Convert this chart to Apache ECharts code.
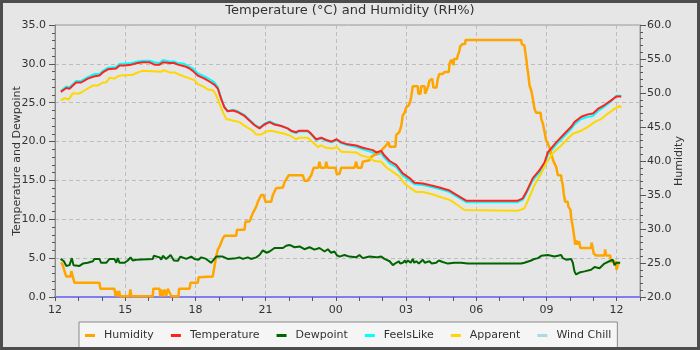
<!DOCTYPE html>
<html>
<head>
<meta charset="utf-8">
<script src="https://cdn.jsdelivr.net/npm/echarts@6/dist/echarts.min.js"></script>
<style>
  html, body { margin: 0; padding: 0; background: #e6e6e6; }
  #chart { width: 700px; height: 350px; }
</style>
</head>
<body>
<div id="chart"></div>
<script>
// Readings as [hours since 12:00, value]
const humidity = [
  [0.26,25.1],[0.33,24.7],[0.48,23.0],[0.66,23.0],[0.7,23.8],[0.76,23.0],[0.83,22.1],[1.9,22.1],[1.94,21.2],[2.54,21.2],
  [2.59,20.1],[2.62,20.9],[2.66,20.1],[2.74,20.9],[2.78,20.1],[3.18,20.1],[3.22,21.1],[3.26,20.1],[4.18,20.1],[4.2,21.2],
  [4.47,21.2],[4.5,20.1],[4.54,21.1],[4.6,20.1],[4.68,21.1],[4.75,20.1],[4.82,21.2],[4.97,20.1],[5.28,20.1],[5.3,21.2],
  [5.75,21.2],[5.79,22.1],[6.1,22.1],[6.14,22.9],[6.74,23.0],[6.79,24.0],[6.89,26.0],[6.96,27.0],[7.03,27.4],[7.17,28.6],
  [7.24,29.0],[7.74,29.0],[7.78,29.9],[8.1,29.9],[8.14,31.1],[8.31,31.1],[8.45,32.3],[8.6,33.3],[8.67,34.0],[8.81,35.0],
  [8.91,35.0],[9.0,34.0],[9.24,34.0],[9.31,35.0],[9.45,36.0],[9.74,36.1],[9.81,36.9],[9.99,37.9],[10.59,37.9],[10.66,37.1],
  [10.8,37.1],[10.95,37.9],[11.05,39.0],[11.25,39.0],[11.3,39.9],[11.36,39.0],[11.55,39.0],[11.59,39.9],[11.65,39.0],[11.99,39.0],
  [12.04,38.1],[12.16,38.1],[12.23,39.0],[12.8,39.0],[12.87,39.9],[12.93,39.0],[13.1,39.0],[13.15,39.9],[13.44,40.1],[13.51,40.6],
  [13.87,41.3],[14.01,41.8],[14.15,42.3],[14.23,42.4],[14.26,42.8],[14.3,42.1],[14.55,42.1],[14.58,43.8],[14.72,44.3],[14.8,45.2],
  [14.86,46.7],[14.94,47.1],[15.01,47.9],[15.12,48.2],[15.18,48.7],[15.22,49.4],[15.29,51.0],[15.5,51.0],[15.53,49.9],[15.62,49.9],
  [15.65,51.0],[15.79,51.0],[15.82,49.9],[15.9,49.9],[15.95,51.0],[16.0,51.8],[16.12,52.1],[16.17,50.8],[16.3,50.8],[16.36,52.1],
  [16.43,52.8],[16.57,52.8],[16.65,53.1],[16.83,53.1],[16.86,54.3],[16.93,54.9],[17.0,54.9],[17.03,54.1],[17.05,55.0],[17.18,55.0],
  [17.21,55.5],[17.28,56.2],[17.32,56.9],[17.42,57.2],[17.53,57.2],[17.54,57.8],[19.92,57.8],[19.95,57.2],[20.06,57.0],[20.09,56.2],
  [20.14,55.0],[20.18,53.8],[20.23,52.6],[20.28,51.1],[20.35,50.4],[20.42,49.2],[20.49,47.7],[20.56,47.1],[20.75,47.1],[20.78,46.2],
  [20.85,45.5],[20.92,44.3],[20.99,43.0],[21.06,42.6],[21.17,41.6],[21.2,41.1],[21.3,40.0],[21.42,39.1],[21.49,37.9],[21.63,37.9],
  [21.65,37.2],[21.7,36.5],[21.74,35.2],[21.8,34.0],[21.91,34.0],[21.94,33.3],[22.03,32.8],[22.06,31.6],[22.13,30.3],[22.2,28.6],
  [22.23,27.7],[22.27,28.3],[22.34,27.7],[22.4,28.2],[22.45,27.2],[22.91,27.2],[22.93,28.0],[22.98,27.2],[23.02,26.4],[23.12,26.1],
  [23.48,26.1],[23.51,27.0],[23.55,26.1],[23.73,26.1],[23.76,25.2],[23.97,25.2],[24.0,24.0],[24.04,24.0],[24.07,25.0],[24.15,25.0]
];

const temperature = [
  [0.25,26.4],[0.48,26.9],[0.62,26.8],[0.9,27.6],[1.12,27.6],[1.4,28.1],[1.69,28.4],[1.9,28.5],[2.04,28.9],[2.26,29.3],
  [2.61,29.4],[2.76,29.8],[2.97,29.8],[3.26,29.9],[3.54,30.1],[3.75,30.2],[4.04,30.2],[4.25,29.9],[4.47,29.9],[4.61,30.2],
  [4.89,30.1],[5.1,30.1],[5.25,29.9],[5.53,29.7],[5.75,29.4],[5.89,29.1],[6.1,28.5],[6.39,28.1],[6.67,27.6],[6.82,27.3],
  [6.96,26.8],[7.1,25.5],[7.24,24.4],[7.38,23.9],[7.6,24.0],[7.81,23.8],[8.1,23.3],[8.31,22.7],[8.53,22.1],[8.74,21.7],
  [8.95,22.2],[9.17,22.5],[9.38,22.2],[9.67,22.0],[9.94,21.7],[10.09,21.4],[10.3,21.2],[10.44,21.4],[10.8,21.4],[10.95,21.0],
  [11.16,20.3],[11.38,20.5],[11.59,20.2],[11.81,20.0],[12.04,20.3],[12.23,19.9],[12.44,19.7],[12.87,19.5],[13.15,19.2],[13.58,18.9],
  [13.73,18.6],[13.94,18.8],[14.08,18.2],[14.3,17.5],[14.58,17.0],[14.86,15.9],[15.15,15.3],[15.36,14.7],[15.72,14.6],[16.0,14.4],
  [16.43,14.1],[16.86,13.7],[17.07,13.3],[17.57,12.4],[19.78,12.4],[19.99,12.7],[20.14,13.5],[20.42,15.3],[20.7,16.3],[20.92,17.3],
  [21.06,18.6],[21.42,19.9],[21.77,21.0],[22.06,21.9],[22.2,22.5],[22.49,23.2],[22.77,23.5],[22.99,23.6],[23.2,24.2],[23.48,24.7],
  [23.77,25.3],[23.99,25.8],[24.2,25.8]
];

const dewpoint = [
  [0.24,4.9],[0.29,5.1],[0.38,4.6],[0.48,4.0],[0.62,4.1],[0.72,5.0],[0.79,4.1],[1.05,4.0],[1.19,4.3],[1.4,4.4],
  [1.62,4.6],[1.69,4.9],[1.9,4.9],[1.97,4.4],[2.19,4.4],[2.33,4.9],[2.54,4.9],[2.62,4.4],[2.68,5.0],[2.76,4.4],
  [2.97,4.4],[3.11,4.7],[3.23,5.1],[3.32,4.7],[3.47,4.8],[3.54,4.9],[4.18,4.9],[4.22,5.3],[4.47,5.1],[4.54,4.8],
  [4.61,5.3],[4.75,4.9],[4.94,5.4],[5.08,4.7],[5.25,4.65],[5.36,5.2],[5.61,4.9],[5.82,5.2],[5.96,4.9],[6.03,5.1],
  [6.13,4.8],[6.25,5.1],[6.46,4.9],[6.67,4.4],[6.89,5.2],[7.17,5.2],[7.38,4.9],[7.74,5.0],[7.88,5.1],[8.03,4.9],
  [8.24,5.1],[8.38,4.9],[8.6,5.1],[8.74,5.4],[8.88,6.0],[9.03,5.7],[9.17,5.85],[9.38,6.3],[9.74,6.3],[9.88,6.6],
  [10.02,6.7],[10.24,6.4],[10.45,6.5],[10.66,6.15],[10.88,6.4],[11.09,6.1],[11.3,6.3],[11.52,5.85],[11.66,6.15],[11.8,5.7],
  [11.94,5.85],[12.04,5.4],[12.16,5.2],[12.37,5.4],[12.58,5.2],[12.87,5.1],[13.01,5.4],[13.15,5.0],[13.44,5.2],[13.73,5.1],
  [13.94,5.2],[14.08,4.9],[14.15,5.1],[14.3,4.6],[14.44,4.1],[14.58,4.4],[14.7,4.6],[14.75,4.3],[14.86,4.4],[14.95,4.7],
  [15.0,4.4],[15.08,4.7],[15.2,4.4],[15.29,4.9],[15.35,4.4],[15.44,4.6],[15.55,4.3],[15.72,4.8],[15.8,4.4],[16.0,4.6],
  [16.1,4.3],[16.29,4.4],[16.4,4.7],[16.57,4.5],[16.79,4.3],[17.07,4.4],[17.35,4.4],[17.64,4.3],[19.92,4.3],[20.06,4.4],
  [20.35,4.7],[20.49,4.9],[20.64,5.0],[20.78,5.3],[21.06,5.4],[21.35,5.2],[21.63,5.4],[21.7,5.0],[21.85,4.8],[22.06,4.9],
  [22.13,4.4],[22.2,3.3],[22.27,2.9],[22.41,3.15],[22.63,3.3],[22.91,3.5],[23.06,3.85],[23.27,3.7],[23.48,4.3],[23.69,4.6],
  [23.84,4.8],[23.91,4.1],[23.99,4.4],[24.15,4.4]
];

const feelsLike = [
  [0.25,26.5],[0.48,27.1],[0.62,27.0],[0.9,27.8],[1.12,27.8],[1.4,28.3],[1.69,28.7],[1.9,28.7],[2.04,29.1],[2.26,29.5],
  [2.61,29.6],[2.76,30.0],[2.97,30.0],[3.26,30.1],[3.54,30.3],[3.75,30.4],[4.04,30.4],[4.25,30.2],[4.47,30.1],[4.61,30.5],
  [4.89,30.3],[5.1,30.3],[5.25,30.1],[5.53,30.0],[5.75,29.6],[5.89,29.4],[6.1,28.8],[6.39,28.4],[6.67,27.9],[6.82,27.6],
  [6.96,27.0],[7.1,25.6],[7.24,24.5],[7.38,23.9],[7.6,24.1],[7.81,23.9],[8.1,23.4],[8.31,22.8],[8.53,22.2],[8.74,21.8],
  [8.95,22.3],[9.17,22.6],[9.38,22.3],[9.67,22.0],[9.94,21.7],[10.09,21.3],[10.3,21.1],[10.44,21.3],[10.8,21.3],[10.95,20.9],
  [11.16,20.2],[11.38,20.4],[11.59,20.1],[11.81,19.9],[12.04,20.2],[12.23,19.8],[12.44,19.6],[12.87,19.3],[13.15,19.0],[13.58,18.6],
  [13.73,18.3],[13.94,18.5],[14.08,17.9],[14.3,17.2],[14.58,16.7],[14.86,15.6],[15.15,15.0],[15.36,14.5],[15.72,14.4],[16.0,14.2],
  [16.43,13.9],[16.86,13.5],[17.07,13.1],[17.57,12.2],[19.78,12.2],[19.99,12.5],[20.14,13.3],[20.42,15.0],[20.7,16.0],[20.92,17.0],
  [21.06,18.3],[21.42,19.6],[21.77,20.7],[22.06,21.6],[22.2,22.2],[22.49,22.9],[22.77,23.2],[22.99,23.3],[23.2,23.9],[23.48,24.5],
  [23.77,25.2],[23.99,25.9],[24.2,25.9]
];

const apparent = [
  [0.25,25.3],[0.41,25.6],[0.58,25.4],[0.76,26.2],[1.05,26.2],[1.33,26.7],[1.62,27.2],[1.83,27.2],[2.04,27.6],[2.19,27.6],
  [2.33,28.2],[2.54,28.1],[2.68,28.4],[2.83,28.5],[3.32,28.6],[3.54,28.9],[3.75,29.1],[4.54,29.0],[4.65,29.2],[4.89,28.9],
  [5.1,28.9],[5.32,28.6],[5.68,28.2],[5.96,27.9],[6.1,27.4],[6.32,27.1],[6.53,26.7],[6.74,26.6],[6.85,26.2],[7.03,24.9],
  [7.17,23.8],[7.32,22.9],[7.6,22.7],[7.88,22.5],[8.17,21.9],[8.45,21.4],[8.6,20.9],[8.81,20.9],[9.03,21.3],[9.24,21.4],
  [9.52,21.2],[9.81,21.0],[10.09,20.7],[10.3,20.3],[10.44,20.5],[10.8,20.5],[11.02,19.9],[11.23,19.3],[11.38,19.5],[11.59,19.2],
  [11.87,19.1],[12.04,19.3],[12.23,18.7],[12.87,18.6],[13.09,18.2],[13.37,18.0],[13.65,17.5],[13.94,17.4],[14.15,16.7],[14.44,16.1],
  [14.72,15.5],[14.94,14.6],[15.15,14.1],[15.44,13.5],[15.72,13.5],[16.15,13.2],[16.43,12.9],[16.86,12.5],[17.07,12.1],[17.5,11.2],
  [19.78,11.1],[20.06,11.4],[20.28,12.9],[20.49,14.4],[20.78,15.9],[20.99,17.2],[21.27,18.5],[21.63,19.5],[21.92,20.4],[22.13,21.0],
  [22.49,21.4],[22.77,21.9],[23.06,22.5],[23.34,22.9],[23.63,23.6],[23.91,24.2],[24.12,24.6],[24.2,24.4]
];

const windChill = [];

const seriesNames = ['Humidity', 'Temperature', 'Dewpoint', 'FeelsLike', 'Apparent', 'Wind Chill'];
const seriesColors = ['#ffa500', '#ff2020', '#006400', '#00ffff', '#ffd700', '#add8e6'];

const FONT = 'DejaVu Sans';
const chart = echarts.init(document.getElementById('chart'), null, { renderer: 'canvas' });

// x axis runs from 12:00 to 13:00 next day; label every 3 hours as a clock hour
function hourLabel(v) {
  const r = Math.round(v);
  if (Math.abs(v - r) > 1e-6 || r % 3 !== 0 || r > 24) return '';
  const h = (12 + r) % 24;
  return (h < 10 ? '0' : '') + h;
}

function line(idx, data, extra) {
  return Object.assign({
    name: seriesNames[idx],
    type: 'line',
    data: data,
    showSymbol: false,
    symbol: 'none',
    lineStyle: { width: 2, color: seriesColors[idx] },
    itemStyle: { color: seriesColors[idx] },
    yAxisIndex: 0,
    animation: false
  }, extra || {});
}

const gridDash = { color: '#bdbdbd', type: [4, 3], width: 1 };

chart.setOption({
  backgroundColor: '#e6e6e6',
  animation: false,
  title: {
    text: 'Temperature (°C) and Humidity (RH%)',
    left: 'center',
    top: 4,
    padding: 0,
    textStyle: { fontFamily: FONT, fontSize: 13, fontWeight: 'normal', color: '#333' }
  },
  legend: {
    data: seriesNames,
    left: 79,
    top: 322,
    padding: [8, 6, 10, 6],
    itemGap: 17,
    itemWidth: 10,
    itemHeight: 3,
    icon: 'rect',
    backgroundColor: '#f5f5f5',
    borderColor: '#8a8a8a',
    borderWidth: 1,
    borderRadius: 0,
    textStyle: { fontFamily: FONT, fontSize: 11, color: '#333', padding: [0, 0, 0, 4] }
  },
  grid: {
    left: 55, right: 60, top: 25, bottom: 53,
    outerBoundsMode: 'none',
    show: true,
    backgroundColor: '#e6e6e6',
    borderColor: '#9a9a9a',
    borderWidth: 1
  },
  xAxis: {
    type: 'value',
    min: 0, max: 25, interval: 3,
    axisLine: { show: true, lineStyle: { color: '#7f7ff0', width: 2 } },
    axisTick: { show: true, length: 4, lineStyle: { color: '#555' } },
    minorTick: { show: true, splitNumber: 3, length: 4, lineStyle: { color: '#555' } },
    axisLabel: { formatter: hourLabel, fontFamily: FONT, fontSize: 11, color: '#333', margin: 8, showMaxLabel: false },
    splitLine: { show: true, lineStyle: gridDash }
  },
  yAxis: [
    {
      type: 'value',
      min: 0, max: 35, interval: 5,
      name: 'Temperature and Dewpoint',
      nameLocation: 'middle',
      nameGap: 32,
      nameRotate: 90,
      nameMoveOverlap: false,
      nameTextStyle: { fontFamily: FONT, fontSize: 11, color: '#333' },
      axisLine: { show: true, lineStyle: { color: '#8a8a8a' } },
      axisTick: { show: true, length: 6, lineStyle: { color: '#555' } },
      minorTick: { show: true, splitNumber: 5, length: 3, lineStyle: { color: '#555' } },
      axisLabel: { formatter: v => v.toFixed(1), fontFamily: FONT, fontSize: 11, color: '#333', margin: 9 },
      splitLine: { show: true, lineStyle: gridDash }
    },
    {
      type: 'value',
      min: 20, max: 60, interval: 5,
      position: 'right',
      name: 'Humidity',
      nameLocation: 'middle',
      nameGap: 34,
      nameRotate: 90,
      nameMoveOverlap: false,
      nameTextStyle: { fontFamily: FONT, fontSize: 11, color: '#333' },
      axisLine: { show: true, lineStyle: { color: '#8a8a8a' } },
      axisTick: { show: true, length: 6, lineStyle: { color: '#555' } },
      minorTick: { show: true, splitNumber: 5, length: 3, lineStyle: { color: '#555' } },
      axisLabel: { formatter: v => v.toFixed(1), fontFamily: FONT, fontSize: 11, color: '#333', margin: 7 },
      splitLine: { show: false }
    }
  ],
  graphic: [
    {
      type: 'rect',
      silent: true,
      z: 100,
      shape: { x: 1.5, y: 1.5, width: 697, height: 347 },
      style: { fill: null, stroke: '#4d4d4d', lineWidth: 3 }
    }
  ],
  series: [
    line(0, humidity, { yAxisIndex: 1, lineStyle: { width: 2.5, color: seriesColors[0] } }),
    line(1, temperature, { z: 3 }),
    line(2, dewpoint),
    line(3, feelsLike, { z: 2 }),
    line(4, apparent),
    line(5, windChill)
  ]
});
</script>
</body>
</html>
